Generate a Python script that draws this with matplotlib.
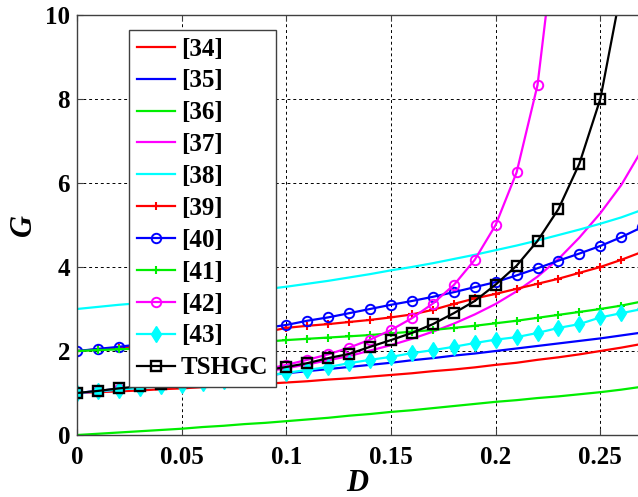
import matplotlib
matplotlib.use('Agg')
import matplotlib.pyplot as plt
import numpy as np

# duty cycle D, sampled every 0.01
D = np.round(np.arange(0, 0.275, 0.01), 2)

g34 = [1.00, 1.02, 1.04, 1.06, 1.09, 1.11, 1.14, 1.16, 1.19, 1.22, 1.25, 1.28, 1.32, 1.35,
       1.39, 1.43, 1.47, 1.52, 1.56, 1.61, 1.67, 1.72, 1.79, 1.85, 1.92, 2.00, 2.08, 2.17]
g35 = [1.00, 1.05, 1.10, 1.14, 1.19, 1.23, 1.28, 1.32, 1.37, 1.42, 1.47, 1.52, 1.57, 1.62,
       1.67, 1.72, 1.78, 1.83, 1.89, 1.94, 2.00, 2.06, 2.12, 2.18, 2.24, 2.30, 2.37, 2.44]
g36 = [0.00, 0.03, 0.06, 0.09, 0.12, 0.15, 0.19, 0.22, 0.26, 0.29, 0.33, 0.37, 0.41, 0.46,
       0.50, 0.55, 0.59, 0.64, 0.69, 0.74, 0.79, 0.83, 0.88, 0.92, 0.97, 1.02, 1.08, 1.15]
g37 = [1.00, 1.04, 1.09, 1.13, 1.18, 1.24, 1.30, 1.36, 1.43, 1.51, 1.59, 1.68, 1.78, 1.88,
       2.01, 2.14, 2.29, 2.46, 2.65, 2.87, 3.12, 3.42, 3.77, 4.19, 4.70, 5.28, 5.95, 6.80]
g38 = [3.00, 3.05, 3.10, 3.14, 3.19, 3.24, 3.29, 3.35, 3.41, 3.47, 3.53, 3.60, 3.67, 3.75,
       3.83, 3.92, 4.00, 4.09, 4.19, 4.29, 4.40, 4.51, 4.63, 4.76, 4.89, 5.03, 5.18, 5.36]
g39 = [2.00, 2.04, 2.08, 2.12, 2.16, 2.20, 2.25, 2.30, 2.38, 2.45, 2.55, 2.60, 2.64, 2.69,
       2.74, 2.80, 2.87, 2.98, 3.12, 3.25, 3.36, 3.48, 3.60, 3.72, 3.86, 4.00, 4.17, 4.36]
g40 = [2.00, 2.05, 2.10, 2.16, 2.22, 2.28, 2.35, 2.41, 2.48, 2.55, 2.62, 2.72, 2.80, 2.90,
       3.00, 3.10, 3.19, 3.29, 3.40, 3.52, 3.64, 3.80, 3.97, 4.15, 4.32, 4.50, 4.71, 4.95]
g41 = [2.00, 2.02, 2.04, 2.06, 2.08, 2.10, 2.13, 2.16, 2.19, 2.22, 2.26, 2.29, 2.32, 2.35,
       2.38, 2.42, 2.46, 2.50, 2.55, 2.60, 2.66, 2.72, 2.79, 2.86, 2.93, 3.00, 3.08, 3.18]
g42 = [1.00, 1.04, 1.09, 1.14, 1.19, 1.25, 1.32, 1.39, 1.47, 1.56, 1.67, 1.79, 1.92, 2.08,
       2.27, 2.50, 2.78, 3.13, 3.57, 4.17, 5.00, 6.25, 8.33, 12.5]
g43 = [1.00, 1.04, 1.08, 1.12, 1.16, 1.20, 1.24, 1.29, 1.35, 1.41, 1.48, 1.55, 1.62, 1.71,
       1.79, 1.86, 1.95, 2.02, 2.10, 2.19, 2.27, 2.33, 2.43, 2.55, 2.64, 2.80, 2.90, 3.00]
tshgc = [1.00, 1.05, 1.11, 1.16, 1.21, 1.27, 1.33, 1.39, 1.46, 1.54, 1.62, 1.71, 1.83, 1.93,
         2.10, 2.26, 2.43, 2.64, 2.90, 3.19, 3.58, 4.03, 4.62, 5.38, 6.46, 8.00, 10.6]

xticks = [0, 0.05, 0.1, 0.15, 0.2, 0.25]
xtick_labels = ['0', '0.05', '0.1', '0.15', '0.2', '0.25']
yticks = [0, 2, 4, 6, 8, 10]

serif = 'Liberation Serif'

fig = plt.figure(figsize=(6.38, 4.97), dpi=100)
ax = fig.add_axes([0.1207, 0.1247, 0.8793, 0.8453])

lw = 1.6
ax.plot(D, g34, color='#ff0000', lw=lw, label='[34]')
ax.plot(D, g35, color='#0000ff', lw=lw, label='[35]')
ax.plot(D, g36, color='#00ee00', lw=lw, label='[36]')
ax.plot(D, g37, color='#ff00ff', lw=lw, label='[37]')
ax.plot(D, g38, color='#00ffff', lw=lw, label='[38]')
ax.plot(D, g39, color='#ff0000', lw=lw, marker='+', ms=6, mew=1.5, label='[39]')
ax.plot(D, g40, color='#0000ff', lw=lw, marker='o', ms=6.8, mfc='none', mew=1.4, label='[40]')
ax.plot(D, g41, color='#00ee00', lw=lw, marker='+', ms=6, mew=1.5, label='[41]')
ax.plot(D[:len(g42)], g42, color='#ff00ff', lw=lw, marker='o', ms=6.8, mfc='none', mew=1.4, label='[42]')
ax.plot(D, g43, color='#00ffff', lw=lw, marker='d', ms=8, label='[43]')
ax.plot(D[:len(tshgc)], tshgc, color='black', lw=lw, marker='s', ms=7, mfc='none', mew=1.7,
        label='TSHGC')

ax.set_xlim(0, 0.268)
ax.set_ylim(0, 10)
ax.set_xticks(xticks)
ax.set_xticklabels(xtick_labels)
ax.set_yticks(yticks)

ax.grid(True, color='black', linestyle=(0, (3, 3)), linewidth=0.7)
ax.tick_params(direction='in', length=4, top=True, width=0.8, color='#404040')
ax.tick_params(axis='x', pad=8)
ax.tick_params(axis='y', pad=5)
for lab in ax.get_xticklabels() + ax.get_yticklabels():
    lab.set_fontfamily(serif)
    lab.set_fontweight('bold')
    lab.set_fontsize(18)

ax.spines['right'].set_visible(False)
for s in ['top', 'left', 'bottom']:
    ax.spines[s].set_color('#404040')
    ax.spines[s].set_linewidth(1.0)

ax.set_xlabel('D', fontfamily=serif, fontweight='bold', fontstyle='italic', fontsize=22, labelpad=0)
ax.set_ylabel('G', fontfamily=serif, fontweight='bold', fontstyle='italic', fontsize=22, labelpad=5)

leg = ax.legend(loc='upper left', bbox_to_anchor=(0.0927, 0.964), borderaxespad=0,
                prop={'family': serif, 'weight': 'bold', 'size': 18},
                fancybox=False, framealpha=1, edgecolor='#404040',
                labelspacing=0.355, handlelength=1.55, handletextpad=0.22,
                borderpad=0.3)
leg.get_frame().set_linewidth(1.0)

fig.savefig('out.png', dpi=100)
